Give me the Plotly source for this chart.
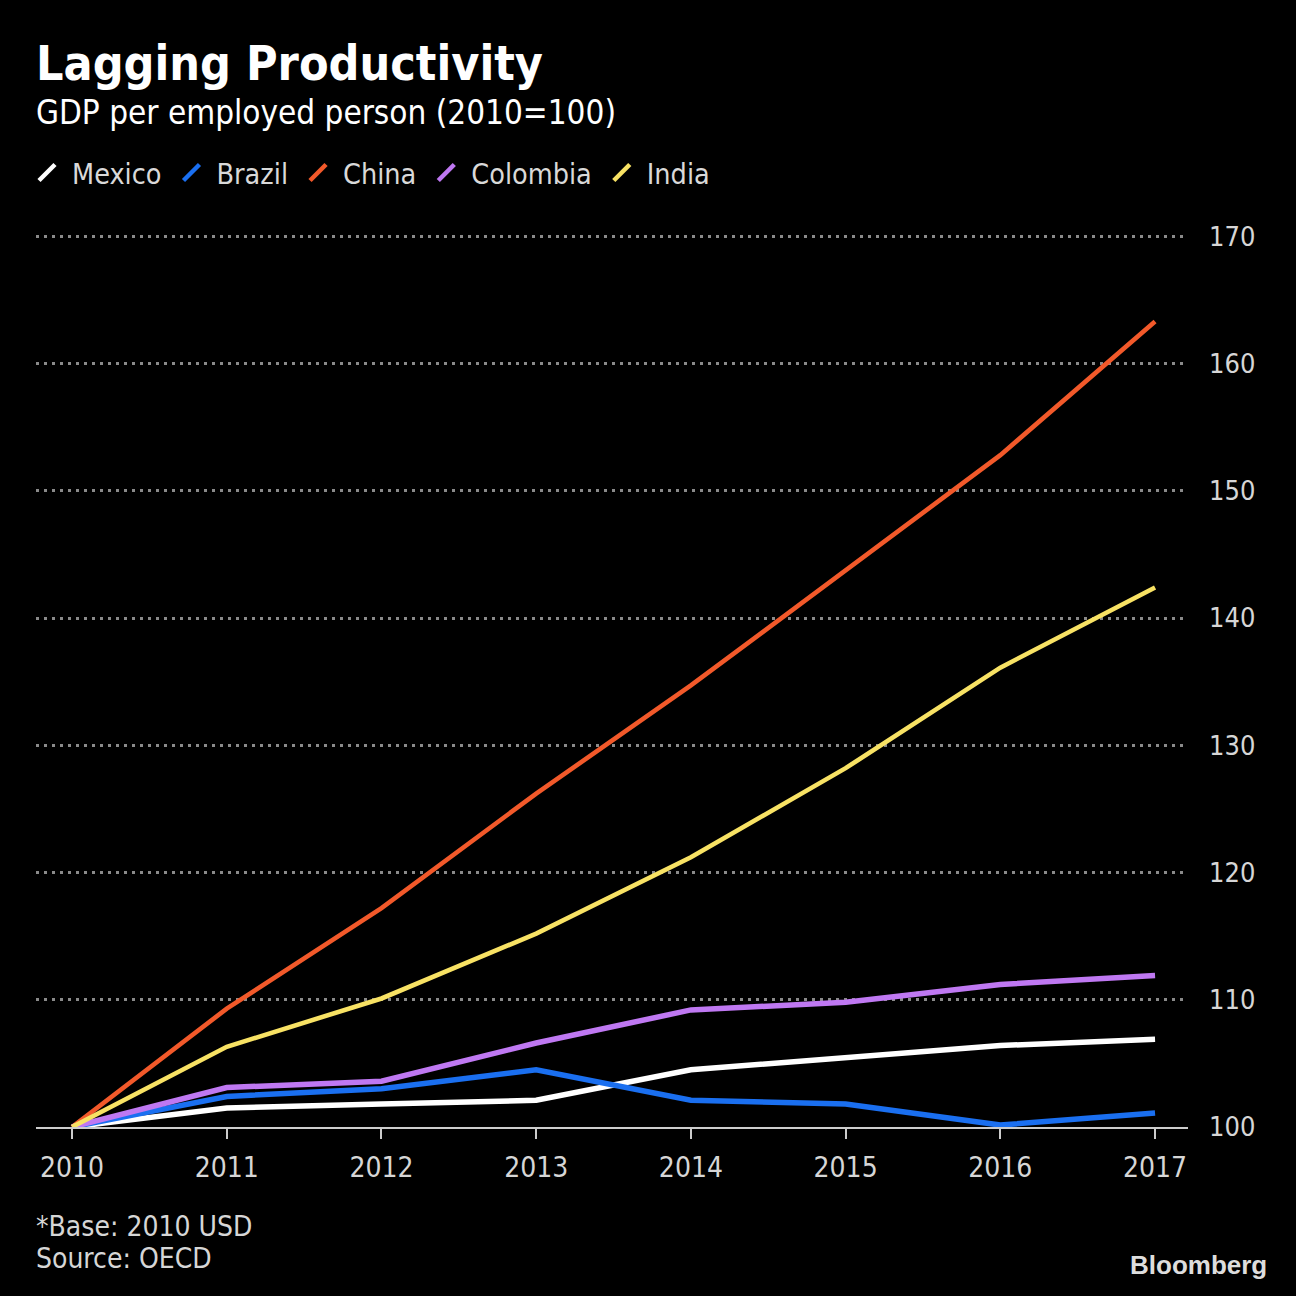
import plotly.graph_objects as go

years = [2010, 2011, 2012, 2013, 2014, 2015, 2016, 2017]
mexico = [100, 101.5, 101.8, 102.1, 104.5, 105.4, 106.4, 106.9]
brazil = [100, 102.4, 103.0, 104.5, 102.1, 101.8, 100.15, 101.1]
china = [100, 109.3, 117.2, 126.2, 134.7, 143.8, 152.8, 163.3]
colombia = [100, 103.1, 103.6, 106.6, 109.2, 109.8, 111.2, 111.9]
india = [100, 106.3, 110.1, 115.2, 121.2, 128.2, 136.1, 142.4]

series = [
    ("Mexico", mexico, "#ffffff", 5.5),
    ("Brazil", brazil, "#1a6ff0", 5.5),
    ("China", china, "#f2592a", 4.6),
    ("Colombia", colombia, "#bf78f2", 5.5),
    ("India", india, "#f8e264", 4.6),
]
y_ticks = [100, 110, 120, 130, 140, 150, 160, 170]

FONT = "DejaVu Sans Condensed, Liberation Sans Narrow, DejaVu Sans, sans-serif"

fig = go.Figure()
for name, vals, color, w in series:
    fig.add_trace(go.Scatter(
        x=years, y=vals, mode="lines", name=name, legendgroup=name,
        showlegend=False, line=dict(color=color, width=w),
        hoverinfo="x+y+name",
    ))
for name, vals, color, w in series:
    fig.add_trace(go.Scatter(
        x=[None], y=[None], mode="markers", name=name, legendgroup=name,
        marker=dict(symbol="line-ne", size=17, line=dict(color=color, width=4.5)),
    ))

Y_TOP = 170.1
L, R, B = 36, 108, 169
W = H = 1296
T = round(1127 - (Y_TOP - 100) * (1127 - 236) / 70)
pw = W - L - R
ph = H - T - B

def py(pix):
    return (H - B - pix) / ph

def px(pix):
    return (pix - L) / pw

fig.update_layout(
    width=W, height=H,
    paper_bgcolor="#000000", plot_bgcolor="#000000",
    margin=dict(l=L, r=R, t=T, b=B, pad=0),
    font=dict(family=FONT, color="#d6d6d6", size=27),
    showlegend=True,
    legend=dict(
        orientation="h", x=px(22), y=py(173), xanchor="left", yanchor="middle",
        font=dict(size=28.5, color="#d9d9d9", family=FONT),
        itemwidth=40,
        bgcolor="rgba(0,0,0,0)", itemclick=False, itemdoubleclick=False,
    ),
    xaxis=dict(
        range=[2009.767, 2017.213], tickvals=years, ticktext=[str(y) for y in years],
        showgrid=False, zeroline=False, showline=True, linecolor="#cccccc", linewidth=2,
        ticks="outside", ticklen=10, tickwidth=2, tickcolor="#cccccc",
        tickfont=dict(size=28, color="#d6d6d6", family=FONT), fixedrange=True,
        ticklabelstandoff=4,
    ),
    yaxis=dict(
        range=[100, Y_TOP], tickvals=y_ticks, side="right",
        showgrid=True, gridcolor="#8a8a8a", gridwidth=2.5, griddash="3px,5px",
        zeroline=False, showline=False, ticks="",
        tickfont=dict(size=27, color="#d6d6d6", family=FONT),
        ticklabelstandoff=20, fixedrange=True,
    ),
    annotations=[
        dict(text="<b>Lagging Productivity</b>", xref="paper", yref="paper",
             x=px(34), y=py(63), xanchor="left", yanchor="middle", showarrow=False,
             font=dict(size=48, color="#ffffff", family=FONT)),
        dict(text="GDP per employed person (2010=100)", xref="paper", yref="paper",
             x=px(34), y=py(113), xanchor="left", yanchor="middle", showarrow=False,
             font=dict(size=33, color="#ffffff", family=FONT)),
        dict(text="*Base: 2010 USD", xref="paper", yref="paper",
             x=px(34), y=py(1226), xanchor="left", yanchor="middle", showarrow=False,
             font=dict(size=28, color="#d6d6d6", family=FONT)),
        dict(text="Source: OECD", xref="paper", yref="paper",
             x=px(34), y=py(1258), xanchor="left", yanchor="middle", showarrow=False,
             font=dict(size=28, color="#d6d6d6", family=FONT)),
        dict(text="<b>Bloomberg</b>", xref="paper", yref="paper",
             x=px(1269), y=py(1265), xanchor="right", yanchor="middle", showarrow=False,
             font=dict(size=26, color="#dddddd", family="Liberation Sans, Arial, sans-serif")),
    ],
)

fig.write_html(
    "out.html",
    config={"displayModeBar": False},
    post_script="document.body.style.margin='0';document.body.style.background='#000';"
                "document.body.style.overflow='hidden';",
)
